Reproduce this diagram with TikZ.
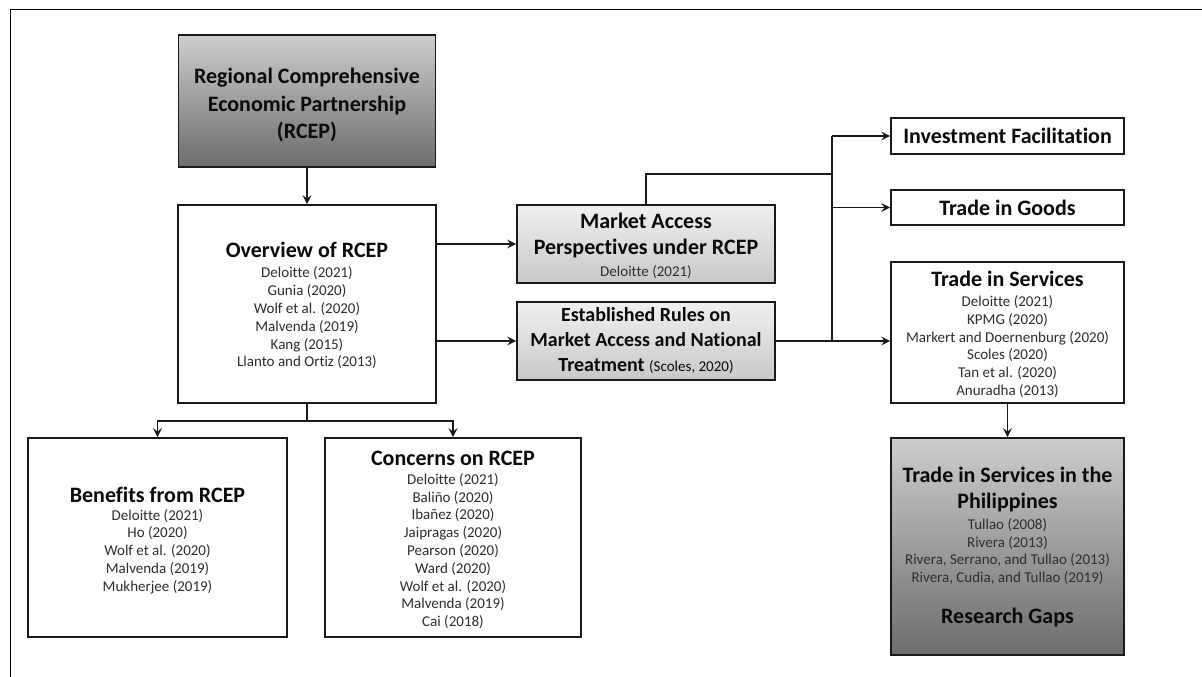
\documentclass[tikz,border=0pt]{standalone}
\usepackage{fontspec}
\setmainfont{Carlito}[RawFeature={-liga;-dlig;-clig}]
\usetikzlibrary{arrows.meta}
\definecolor{linec}{RGB}{25,25,25}
\definecolor{titlec}{RGB}{10,10,10}
\definecolor{refc}{RGB}{45,45,45}
\definecolor{dktop}{RGB}{205,205,205}
\definecolor{dkbot}{RGB}{108,108,108}
\definecolor{lttop}{RGB}{240,240,240}
\definecolor{ltbot}{RGB}{200,200,200}
\begin{document}
\begin{tikzpicture}[x=1pt,y=-1pt,
  box/.style={draw=linec, line width=1.8pt, inner sep=0pt, fill=white},
  dkbox/.style={box, top color=dktop, bottom color=dkbot},
  ltbox/.style={box, top color=lttop, bottom color=ltbot},
  ttl/.style={font=\fontsize{22}{26}\selectfont\bfseries, align=center, text=titlec, inner sep=0pt},
  refs/.style={font=\fontsize{15}{17.8}\selectfont, align=center, text=refc, inner sep=0pt},
  arr/.style={draw=linec, line width=1.8pt, -{Stealth[length=9pt,width=9pt,inset=3.5pt]}},
  ln/.style={draw=linec, line width=1.8pt}]
\useasboundingbox (0,0) rectangle (1202,677);
\draw[line width=1.8pt, draw=black] (10.5,677) -- (10.5,9.5) -- (1202,9.5);

% boxes
\node[dkbox, minimum width=257pt, minimum height=132pt] (rcep) at (307,101) {};
\node[box, minimum width=258pt, minimum height=198pt] (ov) at (307,304) {};
\node[box, minimum width=259pt, minimum height=199pt] (ben) at (157.5,537.5) {};
\node[box, minimum width=256pt, minimum height=199pt] (con) at (453,537.5) {};
\node[ltbox, minimum width=258pt, minimum height=78pt] (ma) at (646,244) {};
\node[ltbox, minimum width=258pt, minimum height=78pt] (er) at (646,341) {};
\node[box, minimum width=233pt, minimum height=36pt] (inv) at (1007.5,136) {};
\node[box, minimum width=233pt, minimum height=35pt] (goods) at (1007.5,207.5) {};
\node[box, minimum width=233pt, minimum height=141pt] (ts) at (1007.5,332.5) {};
\node[dkbox, minimum width=233pt, minimum height=217pt] (ph) at (1007.5,546.5) {};

% texts
\node[ttl, font=\fontsize{22}{27.5}\selectfont\bfseries] (rcept) at (307,105) {Regional Comprehensive\\Economic Partnership\\(RCEP)};
\node[ttl] (ovt) at (307,250) {Overview of RCEP};
\node[refs] (ovr) at (307,318) {Deloitte (2021)\\Gunia (2020)\\Wolf et al. (2020)\\Malvenda (2019)\\Kang (2015)\\Llanto and Ortiz (2013)};
\node[ttl] (bent) at (157.5,495) {Benefits from RCEP};
\node[refs] (benr) at (157.5,551.5) {Deloitte (2021)\\Ho (2020)\\Wolf et al. (2020)\\Malvenda (2019)\\Mukherjee (2019)};
\node[ttl] (cont) at (453,458) {Concerns on RCEP};
\node[refs] (conr) at (453,551) {Deloitte (2021)\\Baliño (2020)\\Ibañez (2020)\\Jaipragas (2020)\\Pearson (2020)\\Ward (2020)\\Wolf et al. (2020)\\Malvenda (2019)\\Cai (2018)};
\node[ttl] (mat) at (646,235.5) {Market Access\\Perspectives under RCEP};
\node[refs] (mar) at (646,272) {Deloitte (2021)};
\node[ttl, font=\fontsize{20}{25}\selectfont\bfseries] (ert) at (646,341) {Established Rules on\\Market Access and National\\Treatment {\fontsize{15}{17}\selectfont\mdseries (Scoles, 2020)}};
\node[ttl] (invt) at (1007.5,136) {Investment Facilitation};
\node[ttl] (goodst) at (1007.5,207.5) {Trade in Goods};
\node[ttl] (tst) at (1007.5,279) {Trade in Services};
\node[refs] (tsr) at (1007.5,346.5) {Deloitte (2021)\\KPMG (2020)\\Markert and Doernenburg (2020)\\Scoles (2020)\\Tan et al. (2020)\\Anuradha (2013)};
\node[ttl] (pht) at (1007.5,489.5) {Trade in Services in the\\Philippines};
\node[refs] (phr) at (1007.5,551.5) {Tullao (2008)\\Rivera (2013)\\Rivera, Serrano, and Tullao (2013)\\Rivera, Cudia, and Tullao (2019)};
\node[ttl] (gaps) at (1007.5,618) {Research Gaps};

% connectors
\coordinate (split) at (ov.south |- 0,421);
\coordinate (trunk) at (832,174);
\draw[arr] (rcep.south) -- (ov.north);
\draw[arr] (ma.west -| ov.east) -- (ma.west);
\draw[arr] (er.west -| ov.east) -- (er.west);
\draw[ln] (ov.south) -- (split);
\draw[arr] (split) -| (ben.north);
\draw[arr] (split) -| (con.north);
\draw[ln] (ma.north) |- (trunk);
\draw[ln] (inv.west -| trunk) -- (er.east -| trunk);
\draw[arr] (inv.west -| trunk) -- (inv.west);
\draw[arr] (goods.west -| trunk) -- (goods.west);
\draw[arr] (er.east) -- (er.east -| ts.west);
\draw[arr] (ts.south) -- (ph.north);
\end{tikzpicture}
\end{document}
